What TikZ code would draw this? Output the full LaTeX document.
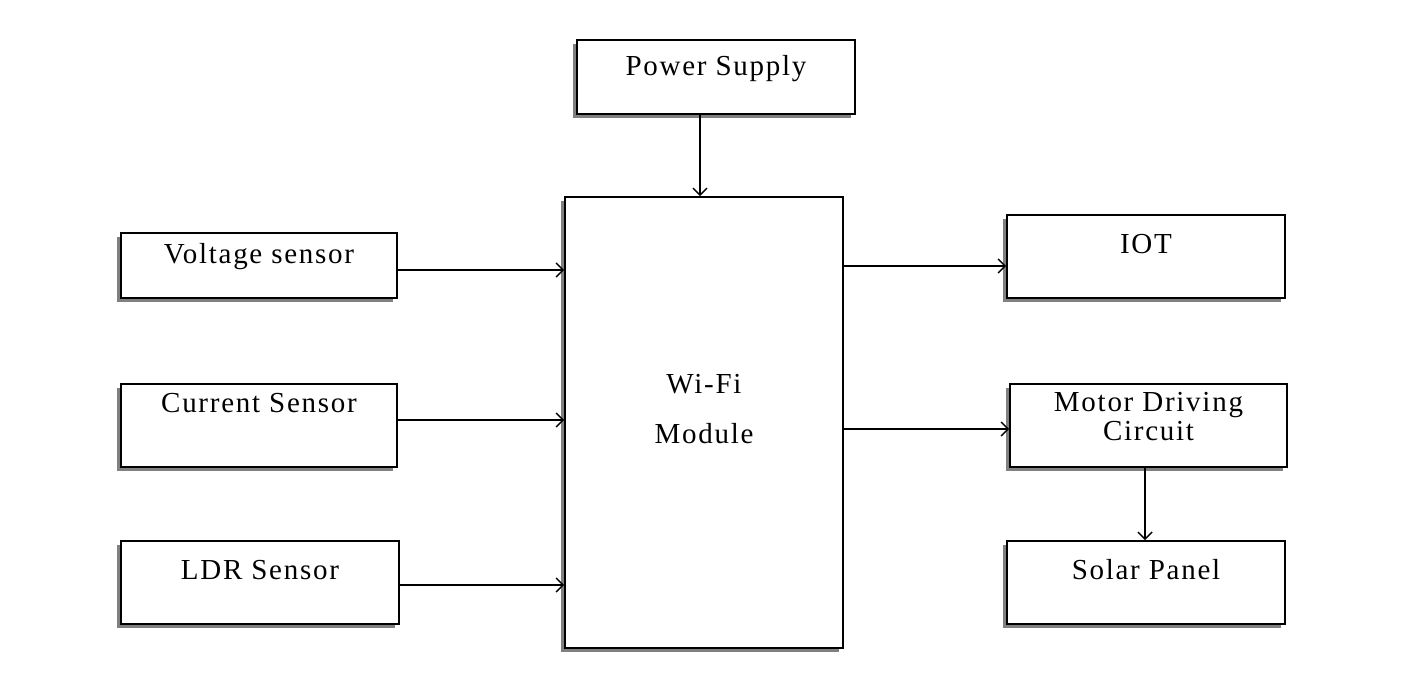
\documentclass[tikz,border=0pt]{standalone}
\usepackage{fontspec}
\newfontfamily\lblfont[LetterSpace=6]{Liberation Serif}
\usetikzlibrary{shadows}
\usetikzlibrary{arrows.meta}
\begin{document}
\begin{tikzpicture}[x=0.02cm,y=-0.02cm,
        block/.style={draw, line width=1.1pt, fill=white, inner sep=0pt,
          font=\lblfont\fontsize{16.5}{16}\selectfont, align=center,
          drop shadow={shadow xshift=-0.08cm, shadow yshift=-0.08cm,
            fill=black!50, opacity=1}},
        arr/.style={-{Straight Barb[length=4pt,width=8pt]}, line width=0.8pt}]
        \useasboundingbox (0,0) rectangle (1428,697);
        \node[block, minimum width=5.56cm, text height=0.70cm, text depth=0.78cm] (power) at (716,77) {Power Supply};
        \node[block, minimum width=5.56cm, text height=4.92cm, text depth=4.10cm] (wifi) at (704,422.5) {Wi-Fi\\[12pt]Module};
        \node[block, minimum width=5.52cm, text height=0.60cm, text depth=0.70cm] (volt) at (259,265.5) {Voltage sensor};
        \node[block, minimum width=5.52cm, text height=0.56cm, text depth=1.10cm] (curr) at (259,425.5) {Current Sensor};
        \node[block, minimum width=5.56cm, text height=0.76cm, text depth=0.90cm] (ldr) at (260,582.5) {LDR Sensor};
        \node[block, minimum width=5.56cm, text height=0.76cm, text depth=0.90cm] (iot) at (1146,256.5) {IOT};
        \node[block, minimum width=5.54cm, text height=1.12cm, text depth=0.54cm] (motor) at (1148.5,425.5) {Motor Driving\\Circuit};
        \node[block, minimum width=5.56cm, text height=0.76cm, text depth=0.90cm] (solar) at (1146,582.5) {Solar Panel};
        \draw[arr] ([xshift=-0.32cm]power.south) -- ([xshift=-0.32cm]power.south |- wifi.north);
        \draw[arr] ([yshift=-0.09cm]volt.east) -- ([yshift=-0.09cm]volt.east -| wifi.west);
        \draw[arr] ([yshift=0.11cm]curr.east) -- ([yshift=0.11cm]curr.east -| wifi.west);
        \draw[arr] ([yshift=-0.05cm]ldr.east) -- ([yshift=-0.05cm]ldr.east -| wifi.west);
        \draw[arr] ([yshift=-0.19cm]iot.west -| wifi.east) -- ([yshift=-0.19cm]iot.west);
        \draw[arr] ([yshift=-0.07cm]motor.west -| wifi.east) -- ([yshift=-0.07cm]motor.west);
        \draw[arr] ([xshift=-0.07cm]motor.south) -- ([xshift=-0.07cm]motor.south |- solar.north);
    \end{tikzpicture}
\end{document}
